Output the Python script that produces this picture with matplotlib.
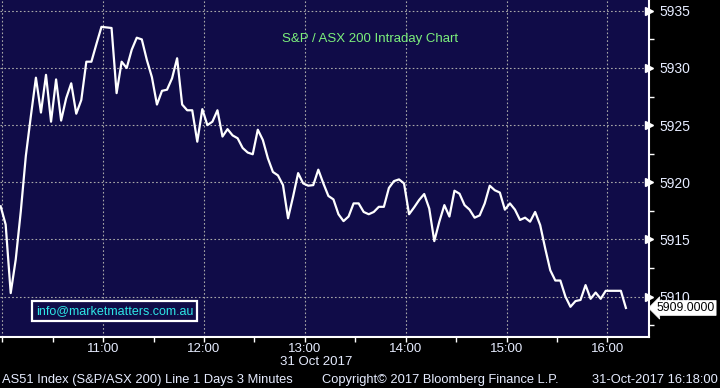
import matplotlib
matplotlib.use("Agg")
import matplotlib.pyplot as plt
import matplotlib.dates as mdates
import matplotlib.transforms as mtrans
import pandas as pd

# 3 minute bars, S&P/ASX 200, 31 Oct 2017
start = "2017-10-31 09:59"
values = [
    5917.9, 5916.3, 5910.3, 5913.25, 5917.45, 5922.3, 5925.8, 5929.15, 5926.1, 5929.4,
    5925.3, 5929.0, 5925.4, 5927.35, 5928.66, 5926.0, 5927.2, 5930.55, 5930.55, 5932.1,
    5933.6, 5933.55, 5933.5, 5927.8, 5930.55, 5930.0, 5931.6, 5932.65, 5932.5, 5930.7,
    5929.2, 5926.8, 5928.0, 5928.1, 5929.1, 5930.85, 5926.8, 5926.3, 5926.3, 5923.55,
    5926.4, 5925.0, 5925.3, 5926.3, 5924.0, 5924.65, 5924.1, 5923.85, 5923.0, 5922.6,
    5922.45, 5924.6, 5923.7, 5922.1, 5920.9, 5920.6, 5919.75, 5916.85, 5918.75, 5920.8,
    5919.9, 5919.7, 5919.75, 5921.1, 5919.9, 5918.8, 5918.5, 5917.2, 5916.6, 5917.0,
    5918.15, 5918.15, 5917.4, 5917.2, 5917.4, 5917.85, 5917.85, 5919.5, 5920.1, 5920.25,
    5919.9, 5917.2, 5917.8, 5918.45, 5918.97, 5917.7, 5914.85, 5916.55, 5918.0, 5917.0,
    5919.26, 5919.0, 5918.0, 5917.6, 5916.9, 5917.1, 5918.15, 5919.7, 5919.3, 5919.1,
    5917.6, 5918.15, 5917.6, 5916.7, 5916.9, 5916.55, 5917.4, 5916.25, 5914.2, 5912.3,
    5911.4, 5911.4, 5910.0, 5909.1, 5909.6, 5909.7, 5911.0, 5909.8, 5910.35, 5909.8,
    5910.5, 5910.5, 5910.5, 5910.5, 5909.0,
]
yticks = [5910, 5915, 5920, 5925, 5930, 5935]
last_label = "5909.0000"
title = "S&P / ASX 200 Intraday Chart"
email = "info@marketmatters.com.au"
date_label = "31 Oct 2017"
footer_left = "AS51 Index (S&P/ASX 200) Line 1 Days 3 Minutes"
footer_mid = "Copyright\u00a9 2017 Bloomberg Finance L.P."
footer_right = "31-Oct-2017 16:18:00"

times = pd.date_range(start, periods=len(values), freq="3min")

plt.rcParams['font.family'] = ['Liberation Sans', 'DejaVu Sans']
navy = "#100c48"
txtcol = "#e6ecff"

fig = plt.figure(figsize=(7.2, 3.88), dpi=100, facecolor="black")
ax = fig.add_axes([0, 0.1327, 0.902, 0.8673], facecolor=navy)

ax.plot(times, values, color="white", lw=1.6, zorder=3)

ax.set_xlim(pd.Timestamp("2017-10-31 09:58:38"), pd.Timestamp("2017-10-31 16:25:00"))
ax.set_ylim(5906.5, 5935.95)

# x axis
ax.xaxis.set_major_locator(mdates.HourLocator())
ax.xaxis.set_minor_locator(mdates.MinuteLocator(byminute=[30]))
ax.xaxis.set_major_formatter(plt.FuncFormatter(
    lambda v, p: "" if mdates.num2date(v).hour == 10 else mdates.num2date(v).strftime("%H:%M")))
ax.tick_params(axis="x", which="both", direction="out", length=3.5, width=1,
               color="white", labelcolor=txtcol, labelsize=9.5, pad=1.5)

# y axis on the right
ax.yaxis.tick_right()
ax.set_yticks(yticks)
ax.set_yticks([v + 2.5 for v in yticks[:-1]] + [yticks[0] - 2.5], minor=True)
ax.tick_params(axis="y", which="major", length=0, labelcolor=txtcol, labelsize=10, pad=7)
ax.tick_params(axis="y", which="minor", direction="out", length=3.5, width=1, color="white")
tr = mtrans.blended_transform_factory(ax.transAxes, ax.transData)
ax.plot([1.0] * len(yticks), yticks, ls="none", marker=">", ms=5.5, color="white",
        transform=tr, clip_on=False, zorder=4)

for s in ["left", "top"]:
    ax.spines[s].set_visible(False)
for s in ["right", "bottom"]:
    ax.spines[s].set_color("white")
    ax.spines[s].set_linewidth(1.5)

ax.grid(True, which="major", color="#a8a8a8", ls=(0, (1.5, 2)), lw=0.8)

# texts
ax.text(0.570, 0.885, title, transform=ax.transAxes, color="#7cf07c", fontsize=9.5, ha="center", va="center")
fig.text(114.5 / 720, 1 - 311 / 388, email, color="#2ee6e6", fontsize=9, ha="center", va="center",
         bbox=dict(boxstyle="square,pad=0.3", fc=navy, ec="white", lw=1.6))
ax.annotate(last_label, xy=(1.0, values[-1]), xycoords=tr, xytext=(5, 0), textcoords="offset points",
            ha="left", va="center", fontsize=8.8, color="black", annotation_clip=False, zorder=6,
            bbox=dict(boxstyle="larrow,pad=0.12", fc="white", ec="white", lw=0.5))
fig.text(316 / 720, 1 - 362 / 388, date_label, color=txtcol, fontsize=9.5, ha="center", va="center")
fig.text(2 / 720, 1 - 380 / 388, footer_left, color=txtcol, fontsize=9.3, ha="left", va="center")
fig.text(322 / 720, 1 - 380 / 388, footer_mid, color=txtcol, fontsize=9.3, ha="left", va="center")
fig.text(718 / 720, 1 - 380 / 388, footer_right, color=txtcol, fontsize=9.3, ha="right", va="center")

fig.savefig("out.png", dpi=100, facecolor="black")
